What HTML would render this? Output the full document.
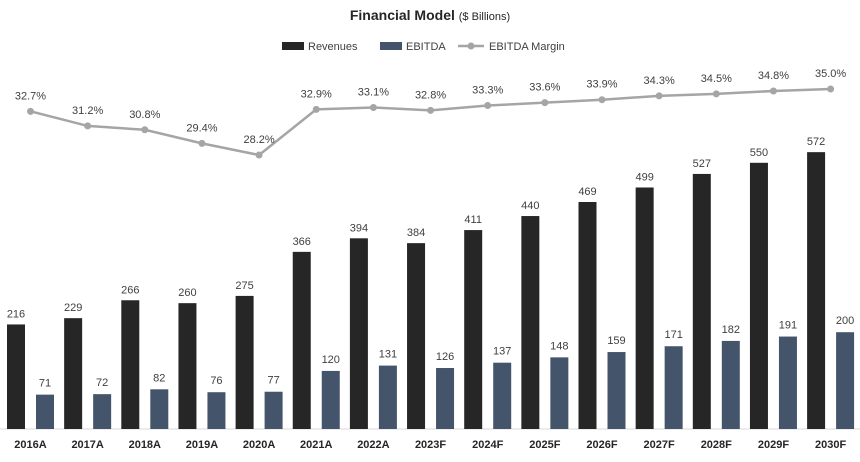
<!DOCTYPE html>
<html><head><meta charset="utf-8"><style>
body{margin:0;background:#fff;font-family:"Liberation Sans",sans-serif}
svg text{font-family:"Liberation Sans",sans-serif}
</style></head><body>
<svg id="c" width="860" height="457">
<text x="430" y="20" text-anchor="middle" font-size="14" font-weight="bold" fill="#262626">Financial Model <tspan font-size="11" font-weight="normal">($ Billions)</tspan></text>
<g>
<rect x="282" y="42" width="22" height="8" fill="#262626"/>
<text x="308" y="50" font-size="11" fill="#404040">Revenues</text>
<rect x="380" y="42" width="22" height="8" fill="#44546a"/>
<text x="406" y="50" font-size="11" fill="#404040">EBITDA</text>
<line x1="458" y1="46" x2="484" y2="46" stroke="#a5a5a5" stroke-width="2.5"/>
<circle cx="471" cy="46" r="3.5" fill="#a5a5a5"/>
<text x="489" y="50" font-size="11" fill="#404040">EBITDA Margin</text>
</g>
<line x1="0" y1="429" x2="860" y2="429" stroke="#d9d9d9"/>
<g id="bars"></g><g id="line"></g>
</svg>
<script>
const categories=["2016A","2017A","2018A","2019A","2020A","2021A","2022A","2023F","2024F","2025F","2026F","2027F","2028F","2029F","2030F"];
const revenues=[216,229,266,260,275,366,394,384,411,440,469,499,527,550,572];
const ebitda=[71,72,82,76,77,120,131,126,137,148,159,171,182,191,200];
const margins=[32.7,31.2,30.8,29.4,28.2,32.9,33.1,32.8,33.3,33.6,33.9,34.3,34.5,34.8,35.0];
const NS="http://www.w3.org/2000/svg";
const base=429,k=0.484;
const xs=i=>7+57.15*i;
const yb=v=>base-v*k;
const ym=m=>155-(m-28.2)*9.7;
const bars=document.getElementById('bars'),line=document.getElementById('line');
function mk(tag,attrs,p){const e=document.createElementNS(NS,tag);for(const a in attrs)e.setAttribute(a,attrs[a]);p.appendChild(e);return e;}
categories.forEach((c,i)=>{
  const x=xs(i);
  const r=mk('rect',{x:x,y:yb(revenues[i]),width:18,height:revenues[i]*k,fill:'#262626'},bars);
  
  
  const t=mk('text',{x:x+9,y:yb(revenues[i])-7,'text-anchor':'middle','font-size':'11',fill:'#404040'},bars);t.textContent=revenues[i];
  
  
  const e=mk('rect',{x:x+29,y:yb(ebitda[i]),width:18,height:ebitda[i]*k,fill:'#44546a'},bars);
  
  
  const t2=mk('text',{x:x+38,y:yb(ebitda[i])-8,'text-anchor':'middle','font-size':'11',fill:'#404040'},bars);t2.textContent=ebitda[i];
  
  
  const xl=mk('text',{x:x+23.5,y:448,'text-anchor':'middle','font-size':'11','font-weight':'bold',fill:'#262626'},bars);xl.textContent=c;
  
  
});
const pts=margins.map((m,i)=>(xs(i)+23.5)+','+ym(m)).join(' ');
const pl=mk('polyline',{points:pts,fill:'none',stroke:'#a5a5a5','stroke-width':'2.5'},line);


margins.forEach((m,i)=>{
  const c=mk('circle',{cx:xs(i)+23.5,cy:ym(m),r:3.5,fill:'#a5a5a5'},line);
  
  
  const t=mk('text',{x:xs(i)+23.5,y:ym(m)-12,'text-anchor':'middle','font-size':'11',fill:'#404040'},line);t.textContent=m.toFixed(1)+'%';
  
  
});
</script>
</body></html>
